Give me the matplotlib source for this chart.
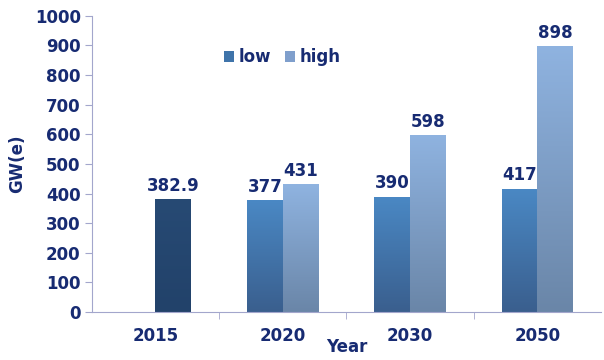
import numpy as np
import matplotlib.pyplot as plt
from matplotlib.colors import LinearSegmentedColormap
from matplotlib.patches import Patch

years = ["2015", "2020", "2030", "2050"]
base_2015 = 382.9
low = [None, 377, 390, 417]
high = [None, 431, 598, 898]

navy = "#172b72"
axis_col = "#a3a6cc"
plt.rcParams['font.family'] = ['DejaVu Sans']
plt.rcParams['font.weight'] = 'bold'
fs = 12

fig = plt.figure(figsize=(6.04, 3.6), dpi=100)
ax = fig.add_axes([0.152, 0.133, 0.843, 0.823])

w = 0.28
x = np.arange(len(years))


def grad_bar(xc, h, top, bottom):
    bar = ax.bar(xc, h, w, color="none", edgecolor="none", zorder=2)[0]
    cmap = LinearSegmentedColormap.from_list("g", [bottom, top])
    grad = np.linspace(0, 1, 100).reshape(-1, 1)
    im = ax.imshow(grad, cmap=cmap, origin="lower", aspect="auto",
                   extent=[xc - w / 2, xc + w / 2, 0, h], zorder=2)
    im.set_clip_path(bar)
    return bar


# 2015 actual value sits in the second slot
grad_bar(x[0] + w / 2, base_2015, "#274a74", "#22426a")
ax.text(x[0] + w / 2, base_2015 + 14, f"{base_2015}", ha="center", va="bottom",
        color=navy, fontsize=fs, fontweight="bold")

for i in range(1, len(years)):
    grad_bar(x[i] - w / 2, low[i], "#4a88c4", "#3a5f8e")
    grad_bar(x[i] + w / 2, high[i], "#8fb3e0", "#6a86a8")
    ax.text(x[i] - w / 2, low[i] + 14, str(low[i]), ha="center", va="bottom",
            color=navy, fontsize=fs, fontweight="bold")
    ax.text(x[i] + w / 2, high[i] + 14, str(high[i]), ha="center", va="bottom",
            color=navy, fontsize=fs, fontweight="bold")

ax.set_xlim(-0.5, 3.5)
ax.set_ylim(0, 1000)
ax.set_yticks(np.arange(0, 1001, 100))
ax.set_xticks(x)
ax.set_xticklabels(years)
ax.set_xticks(np.arange(0.5, 3, 1), minor=True)
ax.tick_params(axis="x", which="major", length=0, pad=11, labelsize=fs, labelcolor=navy)
ax.tick_params(axis="x", which="minor", length=5, color=axis_col)
ax.tick_params(axis="y", length=5, color=axis_col, labelsize=fs, labelcolor=navy, pad=3)
for lab in ax.get_xticklabels() + ax.get_yticklabels():
    lab.set_fontweight("bold")

for s in ["top", "right"]:
    ax.spines[s].set_visible(False)
for s in ["left", "bottom"]:
    ax.spines[s].set_color(axis_col)

ax.set_ylabel("GW(e)", color=navy, fontsize=fs, fontweight="bold", labelpad=6)
ax.set_xlabel("Year", color=navy, fontsize=fs, fontweight="bold", labelpad=-5)

handles = [Patch(facecolor="#3f74aa", label="low"), Patch(facecolor="#7f9fcc", label="high")]
leg = ax.legend(handles=handles, loc="center left", bbox_to_anchor=(0.23, 0.86), ncol=2,
                frameon=False, handlelength=0.6, handleheight=0.6, handletextpad=0.3,
                columnspacing=0.8, prop={"weight": "bold", "size": fs})
for t in leg.get_texts():
    t.set_color(navy)

fig.savefig("out.png", dpi=100)
